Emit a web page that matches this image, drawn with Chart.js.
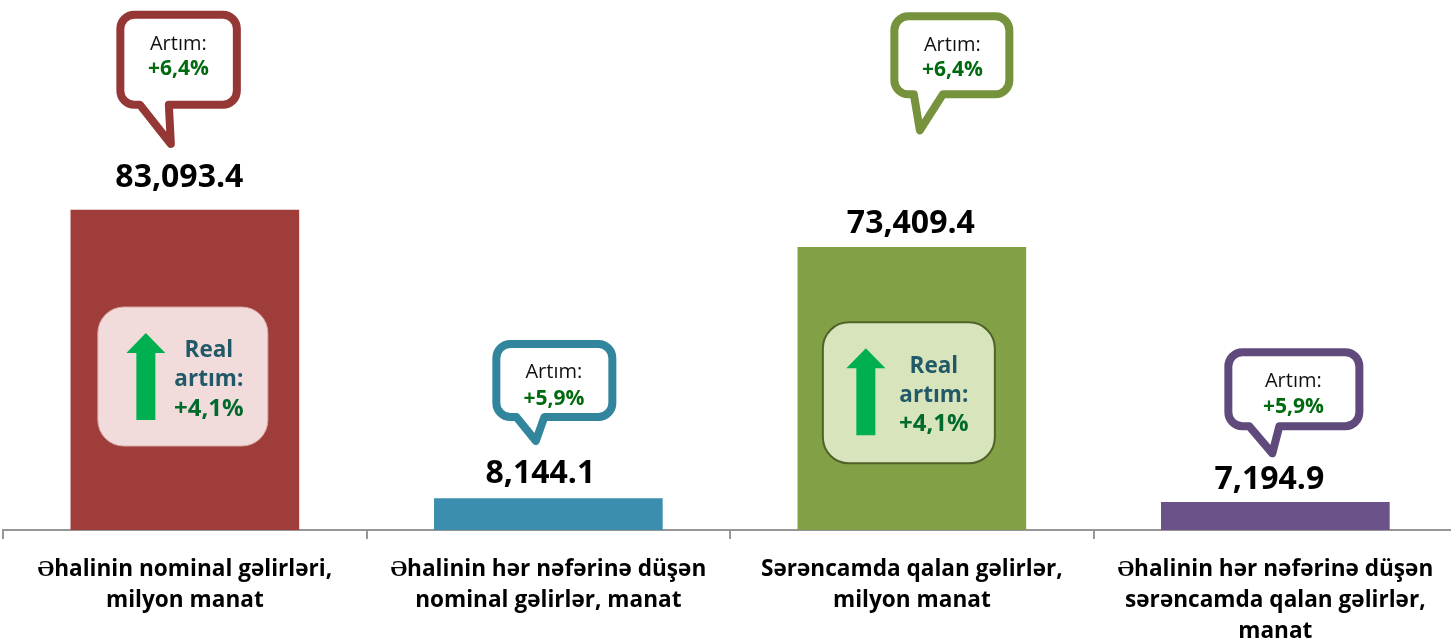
<!DOCTYPE html>
<html><head><meta charset="utf-8">
<style>html,body{margin:0;padding:0;background:#fff;overflow:hidden}#w{width:1451px;height:641px;overflow:hidden;position:relative}canvas{display:block}</style>
<script src="https://cdn.jsdelivr.net/npm/chart.js@4"></script></head>
<body><div id="w"><canvas id="c" width="1460" height="641" style="width:1460px;height:641px"></canvas></div>
<script>
const categories=[["Əhalinin nominal gəlirləri,","milyon manat"],["Əhalinin hər nəfərinə düşən","nominal gəlirlər, manat"],["Sərəncamda qalan gəlirlər,","milyon manat"],["Əhalinin hər nəfərinə düşən","sərəncamda qalan gəlirlər,","manat"]];
const values=[83093.4,8144.1,73409.4,7194.9];
const growth=["+6,4%","+5,9%","+6,4%","+5,9%"];
const realGrowth=["+4,1%",null,"+4,1%",null];
const barColors=["#9e3d3a","#3b8ead","#82a046","#6b5289"];
const calloutColors=["#953735","#31859c","#76923c","#604a7b"];
const FONT='"Open Sans"';
// offsets from each bar's centre x and top y
const callouts=[
 {l:-64.5,r:52,t:-195.3,b:-105.3,tl:-45,tr:-16,tx:-14,ty:-66,cx:-6.5,a:-166,g:-141},
 {l:-52,r:64,t:-154.6,b:-81.6,tl:-32,tr:-4,tx:-12.5,ty:-57.6,cx:5.5,a:-126,g:-100},
 {l:-17.5,r:97.5,t:-231,b:-153,tl:2,tr:31,tx:8,ty:-117,cx:40.5,a:-202,g:-177},
 {l:-47,r:84,t:-150,b:-76,tl:-26,tr:4,tx:-3,ty:-49,cx:18,a:-121,g:-95}];
const labelOffsets=[[-5.5,-32],[-8,-25],[-1,-23],[-6,-22]];
const boxes={0:{l:-87,r:83,t:97,b:236,fill:"#f2dcdb",line:"#d9a9a7",lw:1,ax:-39,at:123,ah:143,ab:210,tx:24,ty:141},
 2:{l:-89,r:83,t:75,b:216,fill:"#d8e4bc",line:"#4f6228",lw:2,ax:-46,at:101,ah:121,ab:188,tx:22,ty:119}};
const overlay={id:"overlay",afterDatasetsDraw(chart){
 const c=chart.ctx,els=chart.getDatasetMeta(0).data;
 c.save();c.textAlign="center";c.textBaseline="middle";
 els.forEach((el,i)=>{
  const X=el.x,Y=el.y,k=callouts[i];
  c.beginPath();
  const R=14,l=X+k.l,r=X+k.r,t=Y+k.t,b=Y+k.b;
  c.moveTo(l+R,t);c.arcTo(r,t,r,b,R);c.arcTo(r,b,l,b,R);
  c.lineTo(X+k.tr,b);c.lineTo(X+k.tx,Y+k.ty);c.lineTo(X+k.tl,b);
  c.arcTo(l,b,l,t,R);c.arcTo(l,t,r,t,R);c.closePath();
  c.fillStyle="#fff";c.fill();c.strokeStyle=calloutColors[i];c.lineWidth=8;c.lineJoin="round";c.stroke();
  c.fillStyle="#111";c.font="20px "+FONT;c.fillText("Artım:",X+k.cx,Y+k.a);
  c.fillStyle="#006a0e";c.font="bold 21px "+FONT;c.fillText(growth[i],X+k.cx,Y+k.g);
  c.fillStyle="#000";c.font="bold 32px "+FONT;
  c.fillText(values[i].toLocaleString("en-US",{minimumFractionDigits:1}),X+labelOffsets[i][0],Y+labelOffsets[i][1]);
  const B=boxes[i];
  if(B){
   c.beginPath();c.roundRect(X+B.l,Y+B.t,B.r-B.l,B.b-B.t,26);c.fillStyle=B.fill;c.fill();c.strokeStyle=B.line;c.lineWidth=B.lw;c.stroke();
   const ax=X+B.ax;
   c.beginPath();c.moveTo(ax,Y+B.at);c.lineTo(ax+19.5,Y+B.ah);c.lineTo(ax+9.5,Y+B.ah);c.lineTo(ax+9.5,Y+B.ab);c.lineTo(ax-9.5,Y+B.ab);c.lineTo(ax-9.5,Y+B.ah);c.lineTo(ax-19.5,Y+B.ah);c.closePath();c.fillStyle="#00b050";c.fill();
   c.font="bold 22.5px "+FONT;c.fillStyle="#215968";
   c.fillText("Real",X+B.tx,Y+B.ty);c.fillText("artım:",X+B.tx,Y+B.ty+29);
   c.font="bold 24px "+FONT;c.fillStyle="#006b2d";c.fillText(realGrowth[i],X+B.tx,Y+B.ty+58);
  }
 });
 c.restore();
}};
new Chart(document.getElementById("c"),{type:"bar",
 data:{labels:categories,datasets:[{data:values,backgroundColor:barColors,borderWidth:0,barThickness:228}]},
 options:{responsive:false,animation:false,
  layout:{padding:{left:3.1,right:2.9,top:29.4,bottom:0}},
  plugins:{legend:{display:false},tooltip:{enabled:false}},
  scales:{
   x:{offset:true,afterFit(s){s.height=111},grid:{display:true,drawOnChartArea:false,drawTicks:true,tickLength:9,color:"#969696",lineWidth:2,offset:true},border:{display:true,color:"#969696",width:2},
      ticks:{color:"#000",font:{family:FONT,size:22.6,weight:"bold",lineHeight:1.372},padding:15,maxRotation:0,minRotation:0,autoSkip:false}},
   y:{display:false,min:0,max:130000}
  }},
 plugins:[overlay]});
</script></body></html>
